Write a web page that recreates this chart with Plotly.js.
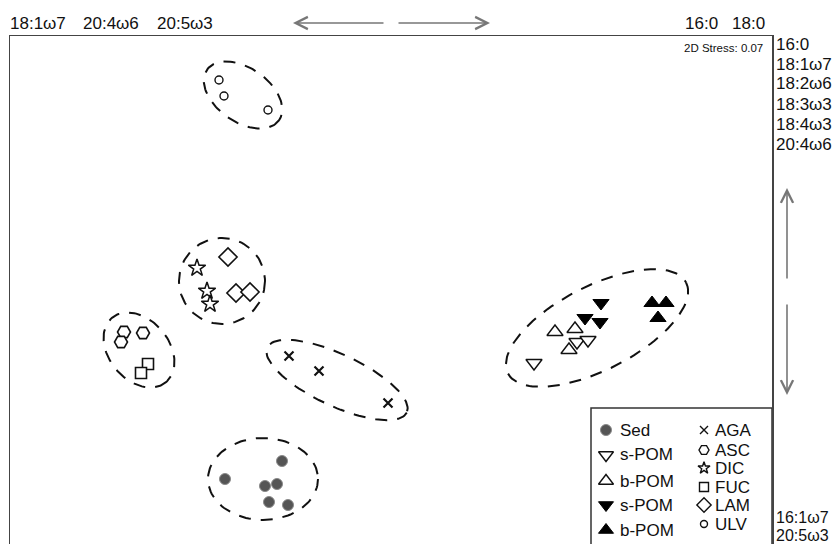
<!DOCTYPE html>
<html>
<head>
<meta charset="utf-8">
<script src="https://cdn.plot.ly/plotly-3.0.1.min.js"></script>
<style>
html,body{margin:0;padding:0;overflow:hidden;background:#fff;}
#chart{width:837px;height:548px;}
</style>
</head>
<body>
<div id="chart"></div>
<script>
// ---- nMDS sample positions (plot units; y grows downward) ----
const sedX = [282, 225, 265, 277, 269, 288];
const sedY = [461, 479, 486, 484, 502, 505];
const sPomOpenX = [534, 577, 588];
const sPomOpenY = [363, 342, 340];
const bPomOpenX = [555, 575, 569];
const bPomOpenY = [332, 329, 350];
const sPomFillX = [601, 585, 600];
const sPomFillY = [303, 318, 322];
const bPomFillX = [652, 666, 658];
const bPomFillY = [303, 303, 318];
const agaX = [289, 319, 388];
const agaY = [356, 371, 403];
const ascX = [124, 121, 143];
const ascY = [332, 342, 333];
const dicX = [197, 207, 210];
const dicY = [268, 291, 304];
const fucX = [148, 141];
const fucY = [364, 373];
const lamX = [228, 236, 250];
const lamY = [257, 293, 292];
const ulvX = [219, 224, 268];
const ulvY = [80, 96, 110];

// ---- group ellipses ----
const ellCX = [243, 222, 139, 337, 263, 597];
const ellCY = [95, 281, 350, 380, 479, 328];
const ellA = [44, 43, 42, 77, 55, 100];
const ellB = [27, 43, 30, 26, 41, 42];
const ellAng = [35, 0, 50, 25, 0, -27];

// ---- text labels ----
const topLeftLabels = ['18:1ω7', '20:4ω6', '20:5ω3'];
const topRightLabels = ['16:0', '18:0'];
const rightTopLabels = ['16:0', '18:1ω7', '18:2ω6', '18:3ω3', '18:4ω3', '20:4ω6'];
const rightBottomLabels = ['16:1ω7', '20:5ω3'];
const stressText = '2D Stress: 0.07';
const legendLeft = ['Sed', 's-POM', 'b-POM', 's-POM', 'b-POM'];
const legendRight = ['AGA', 'ASC', 'DIC', 'FUC', 'LAM', 'ULV'];

// ---- plot geometry ----
const X0 = 10, X1 = 772, Y0 = 36, Y1 = 545;
const W = 837, H = 548;
const FONT = 'Liberation Sans, Arial, Helvetica, sans-serif';
const FS = 17;
const px = v => (v - X0) / (X1 - X0);
const py = v => (Y1 - v) / (Y1 - Y0);

const styles = {
  sed: {symbol: 'circle', size: 11, color: '#555', line: {color: '#8a8a8a', width: 1}},
  sOpen: {symbol: 'triangle-down', size: 14, color: '#fff', line: {color: '#111', width: 1.4}},
  bOpen: {symbol: 'triangle-up', size: 14, color: '#fff', line: {color: '#111', width: 1.4}},
  sFill: {symbol: 'triangle-down', size: 14, color: '#000', line: {color: '#000', width: 1}},
  bFill: {symbol: 'triangle-up', size: 14, color: '#000', line: {color: '#000', width: 1}},
  aga: {symbol: 'x-thin', size: 9, color: '#111', line: {color: '#111', width: 2.2}},
  asc: {symbol: 'hexagon2', size: 13, color: '#fff', line: {color: '#111', width: 1.6}},
  dic: {symbol: 'star', size: 13, color: '#fff', line: {color: '#111', width: 1.5}},
  fuc: {symbol: 'square', size: 11, color: '#fff', line: {color: '#111', width: 1.6}},
  lam: {symbol: 'diamond', size: 14, color: '#fff', line: {color: '#111', width: 1.6}},
  ulv: {symbol: 'circle', size: 8, color: '#fff', line: {color: '#111', width: 1.4}}
};
// legend symbol sizes
const legLeftSize = [11, 13, 13, 13, 13];
const legRightSize = [8, 10, 9, 9, 11, 7];

const traces = [];

// ellipses
for (let i = 0; i < ellCX.length; i++) {
  const xs = [], ys = [];
  const th = ellAng[i] * Math.PI / 180;
  for (let k = 0; k <= 120; k++) {
    const t = 2 * Math.PI * k / 120;
    const u = ellA[i] * Math.cos(t), v = ellB[i] * Math.sin(t);
    xs.push(ellCX[i] + u * Math.cos(th) - v * Math.sin(th));
    ys.push(ellCY[i] + u * Math.sin(th) + v * Math.cos(th));
  }
  traces.push({x: xs, y: ys, type: 'scatter', mode: 'lines', hoverinfo: 'skip',
    line: {color: '#111', width: 2, dash: '12px,10px'}, showlegend: false});
}

function pts(x, y, st, name) {
  traces.push({x: x, y: y, type: 'scatter', mode: 'markers', name: name, showlegend: false,
    marker: {symbol: st.symbol, size: st.size, color: st.color, line: st.line}});
}
pts(sedX, sedY, styles.sed, 'Sed');
pts(sPomOpenX, sPomOpenY, styles.sOpen, 's-POM');
pts(bPomOpenX, bPomOpenY, styles.bOpen, 'b-POM');
pts(sPomFillX, sPomFillY, styles.sFill, 's-POM');
pts(bPomFillX, bPomFillY, styles.bFill, 'b-POM');
pts(agaX, agaY, styles.aga, 'AGA');
pts(ascX, ascY, styles.asc, 'ASC');
pts(dicX, dicY, styles.dic, 'DIC');
pts(fucX, fucY, styles.fuc, 'FUC');
pts(lamX, lamY, styles.lam, 'LAM');
pts(ulvX, ulvY, styles.ulv, 'ULV');

// custom two-column legend
const legLeftY = [430, 455, 481, 505, 530];
const legRightY = [430, 450, 468, 487, 505, 524];
const legLeftSt = [styles.sed, styles.sOpen, styles.bOpen, styles.sFill, styles.bFill];
const legRightSt = [styles.aga, styles.asc, styles.dic, styles.fuc, styles.lam, styles.ulv];
legLeftSt.forEach((st, i) => {
  traces.push({x: [606], y: [legLeftY[i]], type: 'scatter', mode: 'markers', showlegend: false, hoverinfo: 'skip',
    marker: {symbol: st.symbol, size: legLeftSize[i], color: st.color, line: st.line}});
});
legRightSt.forEach((st, i) => {
  traces.push({x: [704], y: [legRightY[i]], type: 'scatter', mode: 'markers', showlegend: false, hoverinfo: 'skip',
    marker: {symbol: st.symbol, size: legRightSize[i], color: st.color,
      line: {color: st.line.color, width: Math.min(st.line.width, 1.4)}}});
});

const annotations = [];
function txt(t, x, y, size, anchor) {
  annotations.push({text: t, xref: 'paper', yref: 'paper', x: px(x), y: py(y),
    xanchor: anchor || 'left', yanchor: 'middle', showarrow: false,
    font: {family: FONT, size: size, color: '#111'}});
}
const tlX = [8, 81, 155];
topLeftLabels.forEach((t, i) => txt(t, tlX[i], 23, FS));
const trX = [683, 730];
topRightLabels.forEach((t, i) => txt(t, trX[i], 23, FS));
rightTopLabels.forEach((t, i) => txt(t, 774, 44 + 20 * i, FS));
rightBottomLabels.forEach((t, i) => txt(t, 774, 517 + 18 * i, 16));
txt(stressText, 765, 48, 11.5, 'right');
legendLeft.forEach((t, i) => txt(t, 618, legLeftY[i], FS));
legendRight.forEach((t, i) => txt(t, 713, legRightY[i], FS));

// arrows
function arrow(tx, ty, ax, ay) {
  annotations.push({text: '', xref: 'paper', yref: 'paper', x: px(tx), y: py(ty),
    ax: ax, ay: ay, showarrow: true, arrowhead: 5, arrowsize: 1.5, arrowwidth: 1.6,
    arrowcolor: '#777'});
}
arrow(293, 23, 92, 0);
arrow(490, 23, -93, 0);
arrow(787, 188, 0, 92);
arrow(787, 395, 0, -92);

const layout = {
  width: W, height: H,
  margin: {l: X0, r: W - X1, t: Y0, b: H - Y1, autoexpand: false},
  paper_bgcolor: '#fff', plot_bgcolor: '#fff',
  showlegend: false,
  xaxis: {range: [X0, X1], showgrid: false, zeroline: false, showticklabels: false, ticks: '',
    showline: true, mirror: true, linecolor: '#444', linewidth: 1.5, fixedrange: true},
  yaxis: {range: [Y1, Y0], showgrid: false, zeroline: false, showticklabels: false, ticks: '',
    showline: true, mirror: true, linecolor: '#444', linewidth: 1.5, fixedrange: true},
  shapes: [{type: 'rect', xref: 'x', yref: 'y', x0: 591, x1: 772, y0: 408, y1: 560,
    line: {color: '#333', width: 1.5}, fillcolor: 'rgba(0,0,0,0)', layer: 'above'}],
  annotations: annotations
};

Plotly.newPlot('chart', traces, layout, {staticPlot: true, displayModeBar: false});
</script>
</body>
</html>
